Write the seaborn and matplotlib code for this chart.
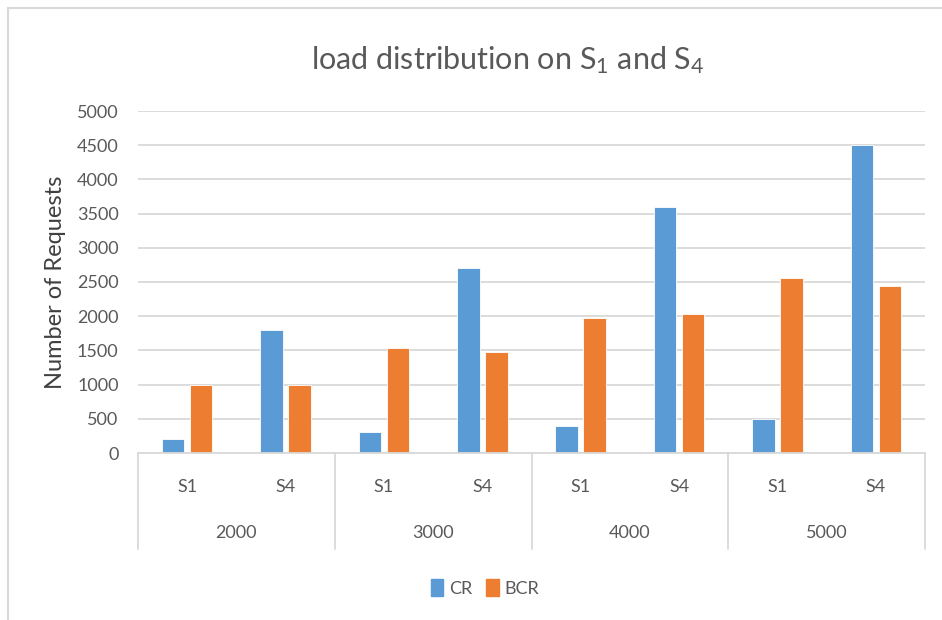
import matplotlib
matplotlib.use("Agg")
import matplotlib.pyplot as plt
import seaborn as sns
import pandas as pd
from matplotlib.patches import Rectangle
from matplotlib.lines import Line2D

years = ["2000", "3000", "4000", "5000"]
servers = ["S1", "S4"]
cr_values = [200, 1800, 300, 2700, 400, 3600, 500, 4500]
bcr_values = [1000, 1000, 1530, 1470, 1980, 2030, 2560, 2440]
series = ["CR", "BCR"]
colors = ["#5B9BD5", "#ED7D31"]

sns.set_theme(style="white")
plt.rcParams["font.family"] = ["Lato", "DejaVu Sans"]
plt.rcParams["mathtext.fontset"] = "custom"
plt.rcParams["mathtext.rm"] = "Lato"
plt.rcParams["mathtext.it"] = "Lato"

cats = [f"{y}-{s}" for y in years for s in servers]
df = pd.DataFrame({
    "cat": cats * 2,
    "value": cr_values + bcr_values,
    "series": [series[0]] * 8 + [series[1]] * 8,
})

W, H = 942, 620
fig = plt.figure(figsize=(W / 100, H / 100), dpi=100)
x0, x1, y0, y1 = 138, 925, 111, 453
ax = fig.add_axes([x0 / W, 1 - y1 / H, (x1 - x0) / W, (y1 - y0) / H])

sns.barplot(data=df, x="cat", y="value", hue="series", order=cats,
            hue_order=series, palette=colors, width=0.57, gap=0.2,
            saturation=1, ax=ax, legend=False, edgecolor="white", linewidth=0.6)

ax.set_xlim(-0.5, len(cats) - 0.5)
ax.set_ylim(0, 5000)
ax.set_yticks(range(0, 5001, 500))
ax.yaxis.grid(True, color="#D9D9D9", linewidth=1.3)
ax.set_axisbelow(True)
for s in ["top", "right", "left"]:
    ax.spines[s].set_visible(False)
ax.spines["bottom"].set_color("#D9D9D9")
ax.spines["bottom"].set_linewidth(1.3)
ax.tick_params(axis="y", length=0, pad=14, labelsize=13, labelcolor="#595959")
ax.set_xticks([])
ax.set_xlabel("")
ax.set_ylabel("Number of Requests", fontsize=17, color="#404040")
ax.yaxis.set_label_coords(-(138 - 55) / (x1 - x0), 0.5)
ax.yaxis.label.set_va("center")

# multi-level category axis
trans = ax.get_xaxis_transform()
sep_bottom = -(549 - 453) / (y1 - y0)
for i in range(len(years) + 1):
    ax.add_line(Line2D([i * 2 - 0.5] * 2, [0, sep_bottom], transform=trans,
                       color="#D9D9D9", linewidth=1.3, clip_on=False))
s_y = -(487 - 453) / (y1 - y0)
yr_y = -(533 - 453) / (y1 - y0)
for i, c in enumerate(cats):
    ax.text(i, s_y, c.split("-")[1], transform=trans, ha="center", va="center",
            fontsize=13, color="#595959")
for j, y in enumerate(years):
    ax.text(j * 2 + 0.5, yr_y, y, transform=trans, ha="center", va="center",
            fontsize=13, color="#595959")

# title
fig.text(508 / W, 1 - 60 / H, r"load distribution on S$_1$ and S$_4$",
         ha="center", va="center", fontsize=22, color="#595959")

# legend
handles = [Rectangle((0, 0), 1, 1, color=c) for c in colors]
fig.legend(handles, series, loc="center", bbox_to_anchor=(485 / W, 1 - 588 / H),
           ncol=2, frameon=False, fontsize=13, labelcolor="#595959",
           handlelength=0.7, handleheight=1.0, handletextpad=0.3, columnspacing=0.8)

# chart border
fig.patches.append(Rectangle((8 / W, -0.1), 1.2, 1 - 8 / H + 0.1,
                             transform=fig.transFigure, fill=False,
                             edgecolor="#D9D9D9", linewidth=1.5))

fig.savefig("out.png", dpi=100, facecolor="white")
